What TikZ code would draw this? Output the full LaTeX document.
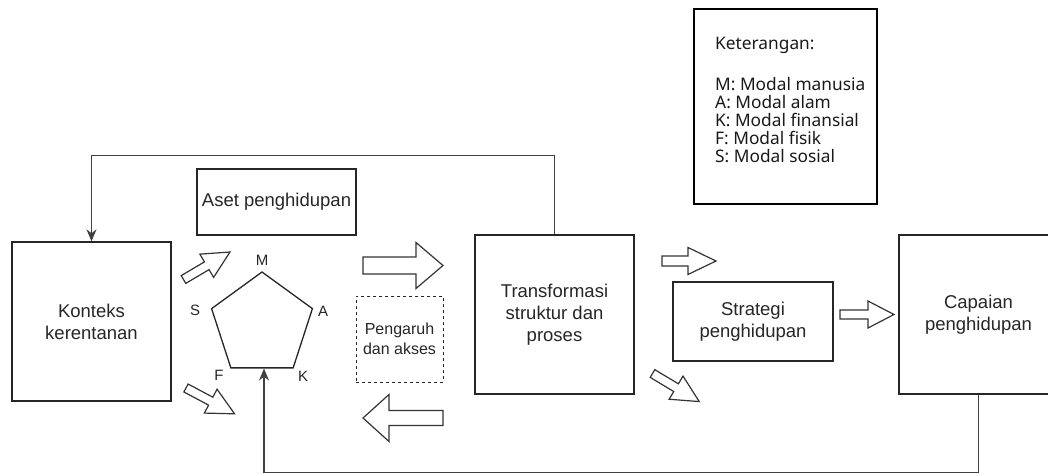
\documentclass[tikz,border=0pt]{standalone}
\usepackage{fontspec}
\setmainfont{Liberation Sans}
\newfontfamily\ketfont{Noto Sans}
\usetikzlibrary{shapes.geometric,arrows.meta}
\newcommand\mainsz{\fontsize{18.5}{22}\selectfont}
\newcommand\pgsz{\fontsize{16}{20}\selectfont}
\newcommand\lblsz{\fontsize{15}{18}\selectfont}
\newcommand\blockarr[7]{%
  \begin{scope}[shift={(#1,#2)},rotate=#3]
    \draw[barrow] (0,-#5) -- ({#4-#7},-#5) -- ({#4-#7},-#6) -- (#4,0) -- ({#4-#7},#6) -- ({#4-#7},#5) -- (0,#5) -- cycle;
  \end{scope}}
\tikzset{
  box/.style={draw=black!85, line width=1.3pt, inner sep=2pt, align=center, font=\mainsz, text=black!85},
  conn/.style={draw=black!75, line width=1.4pt},
  barrow/.style={draw=black!80, line width=1.2pt, fill=white, line join=miter},
  lbl/.style={font=\lblsz, text=black!85, inner sep=0pt},
}
\begin{document}
\begin{tikzpicture}[x=1pt,y=-1pt]
\useasboundingbox (0,0) rectangle (1048,474);
\clip (0,0) rectangle (1048,474);
\fill[white] (0,0) rectangle (1048,474);

% boxes
\node[box, minimum width=159pt, minimum height=159pt] (kont) at (91.5,321.5) {Konteks\\kerentanan};
\node[box, minimum width=159pt, minimum height=66pt] (aset) at (276.5,202) {Aset penghidupan};
\node[box, minimum width=159pt, minimum height=159pt] (trans) at (554.5,314.5) {Transformasi\\struktur dan\\proses};
\node[box, minimum width=160pt, minimum height=79pt] (strat) at (753,321.5) {Strategi\\penghidupan};
\node[box, minimum width=159pt, minimum height=159pt] (cap) at (978.5,314.5) {Capaian\\penghidupan};
\node[box, dashed, line width=1pt, font=\pgsz, minimum width=87pt, minimum height=86pt] (peng) at (399.5,339) {Pengaruh\\dan akses};

% legend
\node[draw=black, line width=1.8pt, minimum width=183pt, minimum height=195pt, inner sep=0pt] (ketbox) at (785.5,106.5) {};
\node[anchor=west, align=left, inner sep=0pt, text=black!90, font=\ketfont\fontsize{17.3}{18}\selectfont] (kettext) at (715,100)
  {Keterangan:\\[23pt]M: Modal manusia\\A: Modal alam\\K: Modal finansial\\F: Modal fisik\\S: Modal sosial};

% pentagon
\node[draw=black!85, line width=1.3pt, regular polygon, regular polygon sides=5, minimum size=106pt, inner sep=0pt] (pent) at (262,325) {};
\node[lbl] (lM) at (262,260) {M};
\node[lbl] (lS) at (195,310) {S};
\node[lbl] (lA) at (323,311) {A};
\node[lbl] (lF) at (219,375) {F};
\node[lbl] (lK) at (303,376) {K};

% block arrows
\blockarr{183.5}{279.5}{30.6}{54}{4.5}{13.5}{27}
\blockarr{186}{388}{-28}{55}{4.5}{13.5}{27}
\blockarr{363}{265.5}{0}{80}{8.5}{23}{27}
\blockarr{443}{418}{180}{80}{7.5}{23.5}{26}
\blockarr{662}{261}{0}{54}{5}{13.5}{28}
\blockarr{652.5}{373.5}{-31}{54.5}{4.5}{13.5}{27}
\blockarr{840}{314.5}{0}{54}{4.5}{13.5}{26}

% feedback connectors
\coordinate (pin) at ([xshift=2pt]pent.south);
\draw[conn, -{Stealth[length=12pt,width=10pt]}] (trans.north) -- ++(0,-79) -| (kont.north);
\draw[conn, -{Stealth[length=12pt,width=10pt]}] (cap.south) -- ++(0,78) -| (pin);
\end{tikzpicture}
\end{document}
